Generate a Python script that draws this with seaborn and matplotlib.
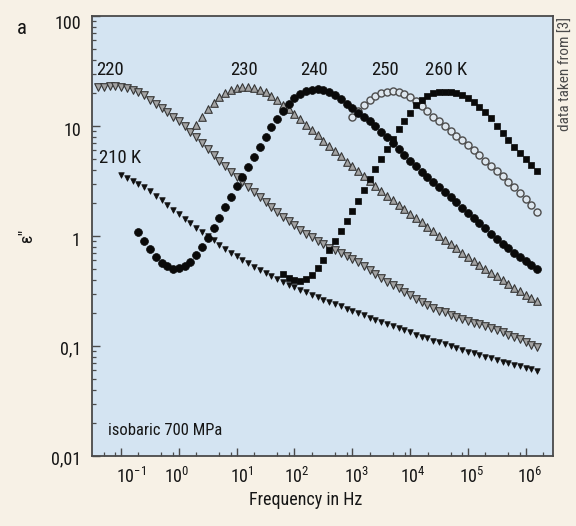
import numpy as np
import pandas as pd
import matplotlib
matplotlib.use("Agg")
import matplotlib.pyplot as plt
import matplotlib.ticker as mticker
import matplotlib.transforms as mtransforms
from matplotlib import font_manager as fm
import seaborn as sns

# ---------------- data ----------------
# each series: log10 of first frequency (Hz); points every 0.1 decade
start_210, start_220, start_230 = -1.0, -1.4, 0.3
start_240, start_250, start_260 = -0.7, 3.0, 1.8

eps_210 = [3.55, 3.37, 3.18, 2.98, 2.77, 2.54, 2.32, 2.11, 1.91, 1.74,
           1.57, 1.43, 1.30, 1.19, 1.09, 1.00, 0.912, 0.832, 0.762, 0.705,
           0.653, 0.608, 0.566, 0.528, 0.494, 0.462, 0.433, 0.406, 0.382, 0.361,
           0.341, 0.324, 0.307, 0.292, 0.277, 0.264, 0.252, 0.240, 0.229, 0.219,
           0.209, 0.199, 0.190, 0.181, 0.173, 0.165, 0.158, 0.151, 0.145, 0.139,
           0.133, 0.127, 0.122, 0.117, 0.112, 0.108, 0.104, 0.100, 0.096, 0.092,
           0.089, 0.086, 0.083, 0.080, 0.077, 0.0745, 0.072, 0.0697, 0.0675, 0.0655,
           0.0635, 0.0615, 0.0597]
eps_220 = [22.5, 22.8, 23.0, 23.0, 22.7, 22.0, 21.2, 20.3, 19.0, 17.4,
           16.0, 14.6, 13.4, 12.2, 11.0, 9.9, 8.9, 7.9, 7.0, 6.2,
           5.5, 4.85, 4.3, 3.85, 3.45, 3.1, 2.78, 2.5, 2.25, 2.03,
           1.84, 1.66, 1.50, 1.37, 1.25, 1.14, 1.05, 0.97, 0.90, 0.84,
           0.78, 0.74, 0.70, 0.66, 0.62, 0.575, 0.535, 0.495, 0.455, 0.415,
           0.385, 0.36, 0.335, 0.31, 0.29, 0.27, 0.25, 0.235, 0.222, 0.21,
           0.202, 0.193, 0.185, 0.177, 0.17, 0.163, 0.157, 0.151, 0.145, 0.139,
           0.133, 0.127, 0.121, 0.115, 0.109, 0.103, 0.098]
eps_230 = [10.3, 12.2, 14.3, 16.3, 18.3, 19.9, 21.2, 22.0, 22.5, 22.6,
           22.2, 21.4, 20.2, 18.7, 17.2, 15.6, 14.2, 12.8, 11.5, 10.2,
           9.2, 8.2, 7.3, 6.6, 5.9, 5.3, 4.75, 4.3, 3.9, 3.5,
           3.15, 2.85, 2.58, 2.33, 2.12, 1.93, 1.76, 1.60, 1.46, 1.33,
           1.21, 1.10, 1.00, 0.92, 0.84, 0.77, 0.705, 0.645, 0.595, 0.55,
           0.505, 0.465, 0.43, 0.395, 0.365, 0.34, 0.315, 0.293, 0.272, 0.255]
eps_240 = [1.08, 0.90, 0.76, 0.65, 0.57, 0.53, 0.505, 0.51, 0.535, 0.585,
           0.67, 0.79, 0.95, 1.17, 1.46, 1.84, 2.25, 2.85, 3.45, 4.25,
           5.2, 6.4, 7.9, 9.7, 11.6, 13.8, 15.9, 17.8, 19.4, 20.6,
           21.3, 21.5, 21.1, 20.3, 19.1, 17.6, 16.0, 14.5, 13.1, 12.0,
           11.0, 10.0, 8.9, 7.9, 7.0, 6.2, 5.5, 4.85, 4.3, 3.85,
           3.45, 3.1, 2.8, 2.52, 2.26, 2.03, 1.81, 1.62, 1.45, 1.30,
           1.17, 1.05, 0.94, 0.845, 0.77, 0.70, 0.64, 0.59, 0.545, 0.505]
eps_250 = [12.0, 13.8, 15.6, 17.3, 18.7, 19.8, 20.5, 20.7, 20.4, 19.6,
           18.3, 16.8, 15.2, 13.6, 12.2, 11.0, 10.0, 9.0, 8.1, 7.4,
           6.7, 6.0, 5.4, 4.85, 4.35, 3.9, 3.5, 3.1, 2.78, 2.48,
           2.18, 1.9, 1.65]
eps_260 = [0.45, 0.415, 0.395, 0.39, 0.405, 0.44, 0.515, 0.61, 0.74, 0.90,
           1.10, 1.36, 1.68, 2.08, 2.62, 3.28, 4.05, 5.0, 6.2, 7.6,
           9.3, 11.2, 13.2, 15.4, 17.3, 18.8, 19.8, 20.3, 20.5, 20.4,
           20.0, 19.2, 18.0, 16.6, 15.0, 13.4, 11.8, 10.1, 8.6, 7.5,
           6.5, 5.7, 5.0, 4.4, 3.9]

series_names = ["210 K", "220", "230", "240", "250", "260 K"]
series_starts = [start_210, start_220, start_230, start_240, start_250, start_260]
series_eps = [eps_210, eps_220, eps_230, eps_240, eps_250, eps_260]

x_tick_exps = [-1, 0, 1, 2, 3, 4, 5, 6]
y_ticks = [0.01, 0.1, 1, 10, 100]
y_tick_labels = ["0,01", "0,1", "1", "10", "100"]

frames = []
for name, st, vals in zip(series_names, series_starts, series_eps):
    freq = 10.0 ** (st + 0.1 * np.arange(len(vals)))
    frames.append(pd.DataFrame({"freq": freq, "eps": vals, "T": name}))
df = pd.concat(frames, ignore_index=True)

# ---------------- style ----------------
sns.set_theme(style="ticks")
entries = fm.fontManager.ttflist
names = {f.name for f in entries}
stretch = "normal"
if "Roboto Condensed" in names:
    main_font = "Roboto Condensed"
elif "Liberation Sans Narrow" in names:
    main_font = "Liberation Sans Narrow"
elif any(f.name == "DejaVu Sans" and str(f.stretch) in ("condensed", "semi-condensed")
         for f in entries):
    main_font = "DejaVu Sans"
    stretch = "condensed"
else:
    main_font = "Liberation Sans"
plt.rcParams["font.family"] = [main_font, "DejaVu Sans"]
plt.rcParams["font.stretch"] = stretch
plt.rcParams["mathtext.fontset"] = "custom"
plt.rcParams["mathtext.rm"] = main_font
plt.rcParams["mathtext.it"] = main_font

FIG_BG = "#f7f1e6"
AX_BG = "#d4e4f2"
SPINE = "#4a4a4a"
TXT = "#161616"

fig = plt.figure(figsize=(5.76, 5.26), dpi=100, facecolor=FIG_BG)
ax = fig.add_axes([92 / 576, 1 - 456 / 526, 461 / 576, 440 / 526])
ax.set_facecolor(AX_BG)

styles = {
    "220":   dict(marker="v", s=30, facecolor="#a3a3a3", edgecolor="#363636", linewidth=0.8, zorder=3),
    "230":   dict(marker="^", s=30, facecolor="#a3a3a3", edgecolor="#363636", linewidth=0.8, zorder=3),
    "210 K": dict(marker="v", s=16, facecolor="#111111", edgecolor="#111111", linewidth=0.5, zorder=4),
    "250":   dict(marker="o", s=26, facecolor="#dde6ee", edgecolor="#4d4d4d", linewidth=1.0, zorder=4),
    "240":   dict(marker="o", s=32, facecolor="#0a0a0a", edgecolor="#0a0a0a", linewidth=0.5, zorder=5),
    "260 K": dict(marker="s", s=24, facecolor="#0a0a0a", edgecolor="#0a0a0a", linewidth=0.5, zorder=6),
}
for name in ["220", "230", "210 K", "250", "240", "260 K"]:
    st = styles[name]
    sns.scatterplot(data=df[df["T"] == name], x="freq", y="eps", ax=ax,
                    marker=st["marker"], s=st["s"], color=st["facecolor"],
                    edgecolor=st["edgecolor"], linewidth=st["linewidth"],
                    zorder=st["zorder"], legend=False)

ax.set_xscale("log")
ax.set_yscale("log")
ax.set_xlim(10 ** -1.503, 10 ** 6.472)
ax.set_ylim(0.01, 100)

ax.set_xticks([10.0 ** e for e in x_tick_exps])
ax.set_xticklabels([r"$\mathregular{10^{%d}}$" % e if e >= 0 else r"$\mathregular{10^{-%d}}$" % (-e)
                    for e in x_tick_exps])
ax.xaxis.set_minor_locator(mticker.LogLocator(base=10, subs=[2, 5, 8], numticks=30))
ax.xaxis.set_minor_formatter(mticker.NullFormatter())
ax.set_yticks(y_ticks)
ax.set_yticklabels(y_tick_labels)
ax.yaxis.set_minor_locator(mticker.LogLocator(base=10, subs=np.arange(2, 10), numticks=30))
ax.yaxis.set_minor_formatter(mticker.NullFormatter())

ax.tick_params(axis="both", which="major", direction="in", length=5.5, width=1.0,
               color=SPINE, labelsize=13, labelcolor=TXT, top=False, right=False)
ax.tick_params(axis="both", which="minor", direction="in", length=3, width=0.9,
               color=SPINE, top=False, right=False)
ax.tick_params(axis="x", which="major", pad=8)
ax.tick_params(axis="y", which="major", pad=8)

# nudge tick labels like the reference
x_dx = {-1: 10, 0: -2, 1: 5, 2: 2.5, 3: 4, 4: 3, 5: 4, 6: 4}
for e, lab in zip(x_tick_exps, ax.get_xticklabels()):
    lab.set_transform(lab.get_transform() +
                      mtransforms.ScaledTranslation(x_dx[e] / 100, 0, fig.dpi_scale_trans))
y_dy = {"0,01": -1, "0,1": -1, "1": -3, "10": -3, "100": -6}
for lab, txt in zip(ax.get_yticklabels(), y_tick_labels):
    lab.set_transform(lab.get_transform() +
                      mtransforms.ScaledTranslation(0, y_dy[txt] / 100, fig.dpi_scale_trans))

for sp in ax.spines.values():
    sp.set_color(SPINE)
    sp.set_linewidth(1.3)

ax.set_xlabel("Frequency in Hz", fontsize=13, color=TXT)
ax.xaxis.set_label_coords((306 - 92) / 461, -(500 - 456) / 440)
ax.xaxis.label.set_verticalalignment("center")
ax.set_ylabel("ε\u2033", fontsize=13, color=TXT)
ax.yaxis.set_label_coords(-(92 - 36) / 461, 0.5)

# curve annotations
ann = [("220", 10 ** -1.19, 32), ("230", 10 ** 1.12, 32), ("240", 10 ** 2.33, 32),
       ("250", 10 ** 3.57, 32), ("260 K", 10 ** 4.63, 32), ("210 K", 10 ** -1.01, 5.1)]
for txt, xx, yy in ann:
    ax.text(xx, yy, txt, ha="center", va="center", fontsize=13.5, color=TXT, zorder=7)
ax.text(10 ** -1.225, 0.0172, "isobaric 700 MPa", ha="left", va="center",
        fontsize=12, color=TXT)

fig.text(22 / 576, 1 - 29 / 526, "a", ha="center", va="center", fontsize=15, color=TXT)
fig.text(566 / 576, 1 - 17 / 526, "data taken from [3]", rotation=90, ha="center", va="top",
         fontsize=11, color="#4a4a4a")

fig.savefig("out.png", dpi=100, facecolor=FIG_BG)
